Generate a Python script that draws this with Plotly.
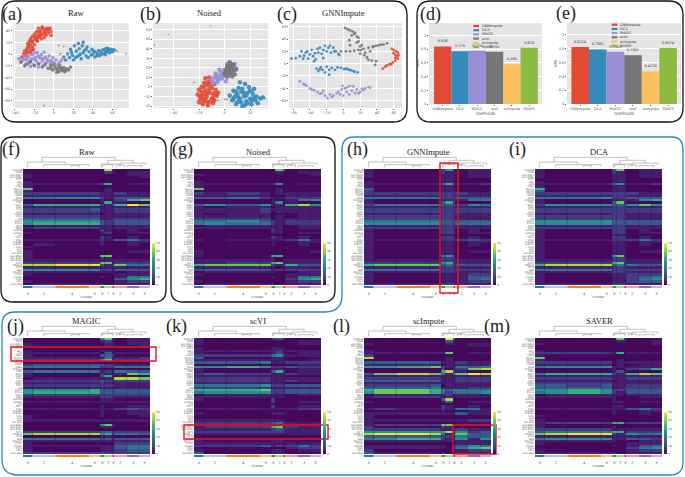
import plotly.graph_objects as go

W, H = 685, 477
# ---------- data ----------
a_red = [(-33,-5),(-31,0),(-30,5),(-28,8),(-27,12),(-25,10),(-24,16),(-22,20),(-25,22),(-20,25),(-22,30),(-18,28),(-16,33),(-18,38),(-14,40),(-12,44),(-8,44),(-5,42),(-3,38),(-6,36),(-10,38),(-12,34),(-15,30),(-13,26),(-17,22),(-20,16),(-26,4),(-29,-3),(-10,42),(-16,44),(-20,34),(-24,26),(-27,18),(-22,12),(-8,32),(-4,44),(-14,36),(-18,24),(-23,6),(-28,2),(-12,46),(-7,40),(-3,32),(-10,28),(-16,38),(-19,30),(-23,22),(-26,14),(-21,8),(-6,44),(-9,35),(-13,32),(-16,28),(-24,2)]
a_red_out = [(6,-1),(7,1),(-10,-88),(10,13)]
a_purple = [(-36,-8),(-33,-12),(-30,-5),(-28,-10),(-26,-3),(-25,-14),(-23,-8),(-22,-1),(-21,-18),(-19,-5),(-18,-12),(-17,2),(-15,-16),(-14,-7),(-13,-1),(-12,-12),(-11,-20),(-9,-5),(-8,-15),(-7,-9),(-5,-3),(-4,-17),(-3,-11),(-1,-6),(0,-15),(2,-10),(4,-18),(6,-14),(-29,-17),(-20,2),(-10,3),(-16,-22),(-24,-21),(8,-10),(-31,-9),(-27,-6),(-20,-9),(-16,-4),(-11,-8),(-6,-12),(-2,-14),(-24,-11)]
a_gray = [(-34,-14),(-30,-20),(-27,-17),(-24,-13),(-20,-20),(-16,-17),(-12,-22),(-9,-18),(-6,-24),(-3,-20),(-1,-27),(1,-22),(3,-26),(5,-30),(7,-24),(8,-28),(10,-23),(11,-30),(13,-25),(15,-27),(17,-22),(6,-20),(3,-31),(-3,-25),(0,-18),(4,-24),(9,-26),(12,-28)]
a_blue = [(10,-5),(12,-10),(14,0),(16,-6),(17,8),(19,-2),(20,-10),(21,14),(23,5),(24,-4),(25,18),(26,9),(27,0),(28,-8),(29,14),(30,20),(31,6),(33,-3),(34,12),(35,-6),(36,4),(38,-2),(39,8),(40,0),(42,-5),(43,3),(45,0),(46,6),(47,-3),(48,3),(50,7),(51,0),(52,8),(53,3),(54,10),(55,5),(56,9),(57,2),(59,8),(60,4),(62,7),(18,3),(22,-6),(26,-2),(30,2),(33,8),(41,5),(44,-3),(49,0),(53,-1),(56,6)]
a_blue_out = [(65,5),(74,0),(5,15)]

b_red = [(-21,-8),(-20,-3),(-19,-13),(-18,0),(-17,-8),(-16,-15),(-16,4),(-15,-4),(-14,-10),(-13,2),(-13,-16),(-12,-6),(-11,6),(-10,-12),(-10,-1),(-9,-7),(-8,3),(-8,-14),(-7,-3),(-20,-16),(-17,-18),(-13,-19),(-9,-17),(-12,10),(-15,9),(-6,-9),(-5,-6),(-18,-5),(-15,-13),(-12,-2),(-19,-10),(-11,-15),(-14,-7),(-16,0),(-9,-11),(-7,-7),(-17,-12),(-13,5),(-10,3)]
b_red_out = [(-55,44),(-24,5),(2,-13)]
b_purple = [(-10,7),(-8,10),(-6,12),(-5,7),(-3,15),(-1,12),(0,18),(1,14),(-2,9),(3,20),(2,10),(-4,18),(5,22),(-7,14),(-9,4),(1,6),(4,26),(8,24),(9,18),(-6,5),(-3,11),(-1,16),(2,24),(-6,9)]
b_purple_out = [(-44,55),(-11,64)]
b_gray = [(0,14),(1,18),(2,22),(3,12),(3,16),(4,19),(5,14),(5,24),(6,21),(7,17),(8,13),(2,15),(4,25),(7,23),(6,11),(9,19),(1,12),(4,15),(6,18),(3,21)]
b_blue = [(4,-9),(6,-14),(7,-4),(9,-18),(10,-8),(11,-1),(12,-13),(13,-5),(14,-20),(15,-10),(16,3),(17,-15),(18,-6),(19,0),(20,-12),(21,-18),(22,-7),(23,-2),(24,-14),(25,-10),(26,-17),(28,-12),(30,-11),(10,-16),(14,-2),(18,-17),(8,-10),(12,5),(16,-19),(20,-4),(11,-11),(15,-6),(13,-16),(17,-9),(21,-14),(9,-5),(23,-11),(7,-12)]
b_blue_out = [(32,-12),(0,-13),(-5,-14)]

c_gray = [(2,58),(5,56),(8,54),(11,52),(14,50),(10,46),(16,44),(7,38),(18,36),(20,28),(22,30),(24,24),(18,22),(20,16),(25,14),(28,10),(30,6),(32,20),(8,20),(13,21),(3,20),(-3,20),(30,26),(36,28),(42,30),(48,31),(52,33),(34,5),(38,-2),(39,4),(8,30),(13,48),(18,42),(16,34),(21,22),(26,18),(35,27),(39,29),(45,31)]
c_red = [(58,24),(60,22),(63,20),(65,18),(66,14),(64,12),(65,8),(62,5),(59,2),(55,-1),(50,-5),(47,-8),(52,-3),(62,14),(60,17),(62,9),(57,-1)]
c_blue = [(-62,8),(-57,9),(-52,12),(-50,20),(-47,13),(-45,18),(-42,8),(-40,15),(-38,22),(-36,12),(-33,7),(-30,18),(-28,26),(-26,16),(-24,9),(-22,29),(-20,20),(-18,26),(-15,18),(-12,26),(-9,20),(-6,16),(-5,14),(-35,4),(-32,-8),(-30,-12),(-27,-6),(-25,-10),(-22,-14),(-20,-5),(-17,-10),(-17,-18),(-14,-7),(-10,-10),(-7,-6),(-3,-7),(1,-9),(5,-9),(9,-11),(13,-13),(17,-14),(12,-12),(-48,8),(-43,20),(-34,17),(-31,24),(-24,22),(-16,29),(-11,20),(3,-8),(7,-10),(-28,-9)]
c_purple = [(-52,-29),(-48,-33),(-44,-36),(-40,-40),(-35,-43),(-31,-46),(-26,-48),(-22,-52),(-19,-56),(-16,-50),(-12,-52),(-8,-48),(-4,-50),(-2,-42),(-1,-36),(2,-40),(4,-46),(7,-50),(10,-44),(12,-37),(14,-48),(16,-42),(20,-46),(22,-41),(26,-40),(30,-38),(32,-39),(-24,-44),(0,-52),(8,-36),(-46,-34),(-38,-42),(-28,-49),(-14,-54),(-6,-46),(5,-38),(18,-48),(24,-43)]

bar_methods = ["GNNImpute","DCA","MAGIC","scVI","scImpute","SAVER"]
ari_values = [0.838,0.770,0.775,0.762,0.580,0.820]
ari_text = ["0.838","0.770","0.775","0.762","0.580","0.820"]
nmi_values = [0.8224,0.7881,0.7563,0.7052,0.4720,0.8074]
nmi_text = ["0.8224","0.7881","0.7563","0.7052","0.4720","0.8074"]
bar_colors = ["#E24A33","#348ABD","#988ED5","#777777","#FBC15E","#8EBA42"]

cluster_labels = ["0","1","4","6","8","7","9","2","3","5"]
cluster_sizes = [29,68,102,34,12,24,5,38,38,32]
cluster_colors = ["#1f77b4","#aec7e8","#ff7f0e","#ffbb78","#2ca02c","#98df8a","#d62728","#ff9896","#9467bd","#c5b0d5"]
levels = [1,4,9,14,20,26,32,38,44,49]
genes = ["FCGR3B","CD3D","HLA-DQA1","HLA-DQB1","CCR7","LEF1","IL7R","CD8A","MS4A1","CD79A","CD79B","GZMK","CD3E","FCGR3A","PPBP","NKG7","GNLY","CCL5","CST7","GZMA","PRF1","LTB","RPS27","RPL13","CD52","CD69","S100A8","S100A9","LYZ","CD14","FCN1","TYROBP","FCER1G","CST3","LST1","AIF1","HLA-DRA","HLA-DRB1","HLA-DPA1","HLA-DPB1","CD74","TMSB4X","ACTB","B2M","MALAT1","PTPRC","GAPDH","PFN1","CFL1","HLA-DMA"]

raw_rows = ["0000082000","0000021011","1000000011","1000000001","0000000000","1000000000","1111260011","1000000000","7000010000","1000010000","2222111211","1111111111","4455211333","0000101267","0000161100","3666212697","1111111111","2223111222","2222111222","1111011111","2222111111","3333112222","5555322333","5666322333","0111110111","1222111111","0000210010","1000120011","0000000000","0000210010","1111211342","0000100011","0100100010","1000000000","0000000000","1000000011","1000000000","1000770000","1000210000","1111111111","2222771222","8899312744","1111111111","5555221333","1111111011","1000000111","0000100144","0000000356","1000000122","0111100111"]
noised_rows = ["0000074000","0000010011","1000000001","0000000000","0000000000","1000000000","1111150011","1000000000","7000010000","0000010000","2121011111","1111000111","3342111222","0000101145","0000150100","3535111685","1011011111","1112111111","1112011111","1011001011","1111011011","2222011111","4453211222","4544211222","0111110011","1111110011","0000210000","0000110011","0000000000","0000210010","1011111241","0000100011","0000100010","0000000000","0000000000","1000000001","1000000000","1000660000","0000100000","1111101111","1122671111","6777212633","1111101111","3333121222","0111100011","1000000111","0000100144","0000000256","1000000122","0111100111"]
gnn_rows = ["1000252011","1000211011","1000111011","1000111011","0000111000","1000111000","1111362112","1000111000","3000111000","2000111000","2222222211","1111222111","4444222333","1000112144","1000362000","2444333254","1111222111","2222222222","2222222222","1111222111","2222222111","2222222111","4444333333","5555333444","1111222111","2222222111","1000222010","1000222011","1000111000","1000222010","1111222232","1000111011","1000111010","1000111000","1000111000","1000111011","1000111000","1000452000","1000222000","1111222111","2222562111","6777342333","1111222111","4444222222","1111222111","1000111122","1000111133","1000111134","1000111122","1111222111"]
dca_rows = ["1000372011","1000211011","1000111011","1000111011","0000111000","1000111000","1111352112","1000111000","6000111000","3000111000","2222222211","1111222111","4445222333","1000112156","1000372000","2555333575","1111222111","2222222222","2222222222","1111222111","2222222111","2222222111","5555333333","5555333333","1111222111","2222222111","1000222010","1000222011","1000111000","1000222010","1111222242","1000111011","1000111010","1000111000","1000111000","1000111011","1000111000","1000572000","1000222000","1111222111","2222672111","6888342433","1111222111","4444222222","1111222111","1000111222","1000111234","1000111245","1000111233","1111222111"]
magic_rows = ["0000572011","0000121011","1000011011","1000011001","0000000000","1000111000","1111031111","1000333000","1111141112","2222571222","0000000000","2333323111","4444222444","0000000000","3444121433","1000211176","1000361000","0111111887","2222322222","1111211111","2222222111","1111111111","5556333333","5666333333","2222222222","1111222111","0000111000","1111111111","0000000000","0000100011","1111111232","0000100011","0000100011","1000100001","1000000000","1111111111","0000000000","0000572000","0000111000","0000000000","2222332222","7888562443","0000111000","4444231333","1111111111","1000000222","1111111344","1000111344","1000111233","2222222222"]
scvi_rows = ["1000231000","1000000011","1000000011","0000000000","1000111000","1111121111","1000121011","2222452111","3000111000","1111111001","3334111222","0000000011","5565222322","1000111011","1000362011","2322111211","1111111000","2222111111","2222111211","1111111000","4445222333","2222111111","6667222333","4555222333","0111111011","1111111000","1000200000","0000200011","0000000000","0000200011","1111111122","0000000000","1000111000","0000000000","0000000000","1111111000","2222342111","1111111111","1222671211","1111232111","2222222111","1111111111","0000000000","0000000000","1000111000","1111111111","2223121242","0000000122","1000111011","3000111000"]
scimpute_rows = ["0000094000","0000031000","1000011011","0000000011","0000000000","1000000000","1111170011","2000000000","8000010000","0000010000","3333111211","1111011111","5567211434","0000201278","0000683100","3787414798","1111111111","2222111222","3333111222","1111111111","2223011111","3334112122","6776435444","5776425445","0111120111","1222111111","0000380000","1000130011","0000000000","0000210010","1211211441","0000100011","1111111311","1000000000","1000000000","1111111122","1000000000","1222772111","2000210000","2222111211","5555682523","8998412733","3333221433","4566211515","1111111111","0000000111","1111101354","1111101467","2000000122","3111100111"]
saver_rows = ["0000073000","0000011001","1000000001","0000000000","0000000000","1000000000","2222160111","1000000000","7000000000","1000010000","2222011111","1111010011","4555111111","0000101236","0000131000","4666212687","1111111111","2222111222","1111011111","2222111111","3323111222","3333112222","5565222333","4565211333","0111110111","1111100011","0000100000","0000110011","0000000000","0000110000","1111111342","0000100011","0000100010","1000000000","0000000000","1000000000","1222662222","1000000000","1000100000","2222111111","3444661222","7899212544","1111111111","4555111332","1111101011","1000000111","0000100134","0000000245","1000000122","1111100111"]

panels = [("Raw",raw_rows,23,169),("Noised",noised_rows,194,169),("GNNImpute",gnn_rows,364,169),("DCA",dca_rows,535,169),
          ("MAGIC",magic_rows,23,338),("scVI",scvi_rows,194,338),("scImpute",scimpute_rows,364,338),("SAVER",saver_rows,535,338)]

# ---------- helpers ----------
def fx(p): return p / W
def fy(p): return 1 - p / H

fig = go.Figure()
lay = {}
shapes = []
annots = []
TXT = "#555555"

def note(t, x, y, size, family="DejaVu Sans", color="#222", xa="center", ya="middle"):
    annots.append(dict(text=t, x=fx(x), y=fy(y), xref="paper", yref="paper", showarrow=False, xanchor=xa, yanchor=ya,
                       font=dict(family=family, size=size, color=color), borderpad=0))

def axis_pair(idx, x0, x1, y0, y1, xr, yr, xt, yt):
    lay[f"xaxis{idx}"] = dict(domain=[fx(x0), fx(x1)], range=xr, tickvals=xt, showgrid=True, gridcolor="white", gridwidth=0.5,
                              zeroline=False, tickfont=dict(size=3.5, color=TXT), ticklen=1, tickwidth=0.3, ticks="outside",
                              tickcolor=TXT, anchor=f"y{idx}", automargin=False)
    lay[f"yaxis{idx}"] = dict(domain=[fy(y1), fy(y0)], range=yr, tickvals=yt, showgrid=True, gridcolor="white", gridwidth=0.5,
                              zeroline=False, tickfont=dict(size=3.5, color=TXT), ticklen=1, tickwidth=0.3, ticks="outside",
                              tickcolor=TXT, anchor=f"x{idx}", automargin=False)
    shapes.append(dict(type="rect", xref="paper", yref="paper", x0=fx(x0), x1=fx(x1), y0=fy(y1), y1=fy(y0),
                       fillcolor="#E5E5E5", line=dict(width=0), layer="below"))

def add_scatter(idx, sets, size):
    for pts, col, s in [(p, c, size) for p, c in sets]:
        fig.add_trace(go.Scatter(x=[p[0] for p in pts], y=[p[1] for p in pts], mode="markers", showlegend=False,
                                 marker=dict(color=col, size=s, opacity=0.9, line=dict(width=0)),
                                 xaxis=f"x{idx}", yaxis=f"y{idx}"))

R,B,P,G = "#E24A33","#348ABD","#988ED5","#777777"
axis_pair(1,13,129,23,108,[-42,77],[-92,53],[-40,-20,0,20,40,60],[-80,-60,-40,-20,0,20,40])
add_scatter(1,[(a_red,R),(a_blue,B),(a_purple,P),(a_gray,G)],3.6)
add_scatter(1,[(a_red_out,R),(a_blue_out,B)],1.6)
axis_pair(2,153,268,23,108,[-56,34],[-22,67],[-40,-20,0,20],[-20,-10,0,10,20,30,40,50,60])
add_scatter(2,[(b_red,R),(b_blue,B),(b_purple,P),(b_gray,G)],4.6)
add_scatter(2,[(b_red_out,R),(b_blue_out,B),(b_purple_out,P)],1.6)
axis_pair(3,289,402,23,108,[-65,70],[-72,66],[-60,-40,-20,0,20,40,60],[-60,-40,-20,0,20,40,60])
add_scatter(3,[(c_red,R),(c_blue,B),(c_purple,P),(c_gray,G)],2.8)

def add_bars(idx, vals, txt, ylabel):
    for m, v, t, c in zip(bar_methods, vals, txt, bar_colors):
        fig.add_trace(go.Bar(x=[m], y=[v], name=m, text=[t], textposition="outside", width=1, cliponaxis=False, showlegend=False,
                             textfont=dict(size=3.5, color="#333"), marker=dict(color=c, line=dict(width=0)),
                             xaxis=f"x{idx}", yaxis=f"y{idx}"))
    lay[f"xaxis{idx}"]["title"] = dict(text="methods", font=dict(size=4.5, color=TXT), standoff=1)
    lay[f"xaxis{idx}"]["showgrid"] = False
    lay[f"yaxis{idx}"]["title"] = dict(text=ylabel, font=dict(size=4, color=TXT), standoff=1)

axis_pair(4,429,542,23,104,[-0.79,5.74],[0,1.18],bar_methods,[0,0.2,0.4,0.6,0.8,1.0])
lay["xaxis4"].update(tickmode="array", ticktext=bar_methods, categoryorder="array", categoryarray=bar_methods)
add_bars(4, ari_values, ari_text, "ARI")
axis_pair(5,567,681,23,104,[-0.75,5.73],[0,1.17],bar_methods,[0,0.2,0.4,0.6,0.8,1.0])
lay["xaxis5"].update(tickmode="array", ticktext=bar_methods, categoryorder="array", categoryarray=bar_methods)
add_bars(5, nmi_values, nmi_text, "NMI")

# hand-placed legends
for lx, ly in [(473.3,26),(611.7,24.7)]:
    for i,(m,c) in enumerate(zip(bar_methods,bar_colors)):
        yy = ly + i*4.2
        shapes.append(dict(type="rect",xref="paper",yref="paper",x0=fx(lx),x1=fx(lx+5.7),y0=fy(yy+1.1),y1=fy(yy-1.1),fillcolor=c,line=dict(width=0)))
        note(m, lx+7.5, yy, 3.5, color="#333", xa="left")

# heatmaps
edges = [0]
for s in cluster_sizes: edges.append(edges[-1]+s)
centers = [(edges[i]+edges[i+1])/2 for i in range(10)]
dendro = [ (57,277,83,97,92),(14,127,97,113,104),(62,197,105,113,108),(145,170,108,113,113),(238,270,105,113,113),
           (255,330,92,105,100),(235,290,103,113,110),(293,368,100,108,106),(280,305,106,113,113),(312,358,108,113,113)]

for k,(title,rows,x0,y0) in enumerate(panels):
    idx = k+6
    x1, y1 = x0+127, y0+116
    z = [[levels[int(ch)] for ch in r] for r in rows]
    fig.add_trace(go.Heatmap(z=z, x=edges, y=list(range(50)), colorscale="Viridis", zmin=0, zmax=50,
        xaxis=f"x{idx}", yaxis=f"y{idx}", xgap=0, ygap=0, showscale=True,
        colorbar=dict(x=fx(x1+2), xanchor="left", y=fy(y1), yanchor="bottom", len=42/H, lenmode="fraction",
                      thickness=3, thicknessmode="pixels", outlinewidth=0, tickvals=[0,10,20,30,40,50], ticklen=1,
                      tickwidth=0.3, tickfont=dict(size=3, color=TXT), xpad=0, ypad=0)))
    lay[f"xaxis{idx}"] = dict(domain=[fx(x0),fx(x1)], range=[0,edges[-1]], tickvals=centers, ticktext=cluster_labels, anchor=f"y{idx}",
                              showgrid=False, zeroline=False, ticks="outside", ticklen=5, tickcolor="rgba(0,0,0,0)",
                              tickfont=dict(size=3.5,color=TXT), title=dict(text="cluster", font=dict(size=3.5,color=TXT), standoff=0))
    lay[f"yaxis{idx}"] = dict(domain=[fy(y1),fy(y0)], range=[49.5,-0.5], tickvals=list(range(50)), ticktext=genes, anchor=f"x{idx}",
                              showgrid=False, zeroline=False, ticks="", tickfont=dict(size=2.3,color=TXT), automargin=False)
    for i in range(10):
        shapes.append(dict(type="rect", xref=f"x{idx}", yref="paper", x0=edges[i], x1=edges[i+1], y0=fy(y1+3), y1=fy(y1+1),
                           fillcolor=cluster_colors[i], line=dict(width=0)))
        if i:
            shapes.append(dict(type="line", xref=f"x{idx}", yref="paper", x0=edges[i], x1=edges[i], y0=fy(y1), y1=fy(y0),
                               line=dict(color="rgba(45,20,90,0.6)", width=0.5)))
    for (a,b,yt,yl,yr) in dendro:
        ytop = y0 + (yt-118)/3; yb1 = y0+(yl-118)/3; yb2 = y0+(yr-118)/3
        xa, xb = x0+a/3, x0+b/3
        shapes.append(dict(type="path", xref="paper", yref="paper",
            path=f"M {fx(xa)} {fy(yb1)} L {fx(xa)} {fy(ytop)} L {fx(xb)} {fy(ytop)} L {fx(xb)} {fy(yb2)}",
            line=dict(color="#999999", width=0.6)))
    note(title, (x0+x1)/2+0.5, y0-17, 8.5, family="Liberation Serif")

for t,x,y in [("Raw",76,13),("Noised",209,13),("GNNImpute",343,13)]:
    note(t, x, y, 8.5, family="Liberation Serif")
for t,x,y in [("(a)",12,15),("(b)",150,15),("(c)",287,15),("(d)",430,15),("(e)",566,13),("(f)",11,149),("(g)",183,149),("(h)",357,149),
              ("(i)",517,149),("(j)",15,326),("(k)",176,326),("(l)",341,326),("(m)",497,326)]:
    note(t, x, y, 18, family="Liberation Serif")

def rrect(x0,y0,x1,y1,r,color,w=1.3):
    p=(f"M {fx(x0+r)} {fy(y0)} L {fx(x1-r)} {fy(y0)} Q {fx(x1)} {fy(y0)} {fx(x1)} {fy(y0+r)} L {fx(x1)} {fy(y1-r)} "
       f"Q {fx(x1)} {fy(y1)} {fx(x1-r)} {fy(y1)} L {fx(x0+r)} {fy(y1)} Q {fx(x0)} {fy(y1)} {fx(x0)} {fy(y1-r)} L {fx(x0)} {fy(y0+r)} Q {fx(x0)} {fy(y0)} {fx(x0+r)} {fy(y0)} Z")
    shapes.append(dict(type="path",xref="paper",yref="paper",path=p,line=dict(color=color,width=w)))
rrect(2,1,407,122,14,"#111")
rrect(417,1,683,122,14,"#111")
rrect(1,137,166,302,12,"#111")
rrect(171,137,335,302,12,"#111")
bl="#2E86C1"
def P_(x,y): return f"{fx(x)} {fy(y)}"
path=(f"M {P_(354,137)} L {P_(672,137)} Q {P_(683,137)} {P_(683,150)} L {P_(683,462)} Q {P_(683,475)} {P_(670,475)} "
      f"L {P_(18,475)} Q {P_(2,475)} {P_(2,459)} L {P_(2,325)} Q {P_(2,312)} {P_(15,312)} L {P_(325,312)} Q {P_(342,312)} {P_(342,295)} "
      f"L {P_(342,150)} Q {P_(342,137)} {P_(354,137)} Z")
shapes.append(dict(type="path",xref="paper",yref="paper",path=path,line=dict(color=bl,width=1.3)))
for x0,y0,x1,y1 in [(440,163,458,293),(11,347,156,361),(184,425,328,439),(453,425,496,454)]:
    shapes.append(dict(type="rect",xref="paper",yref="paper",x0=fx(x0),x1=fx(x1),y0=fy(y1),y1=fy(y0),line=dict(color="#E8141C",width=1.4)))

fig.update_layout(width=W,height=H,margin=dict(l=0,r=0,t=0,b=0),paper_bgcolor="white",plot_bgcolor="rgba(0,0,0,0)",
                  barmode="overlay",showlegend=False,shapes=shapes,annotations=annots,font=dict(family="DejaVu Sans"),**lay)
fig.write_html("out.html",config=dict(displayModeBar=False),post_script="document.body.style.margin='0';")
